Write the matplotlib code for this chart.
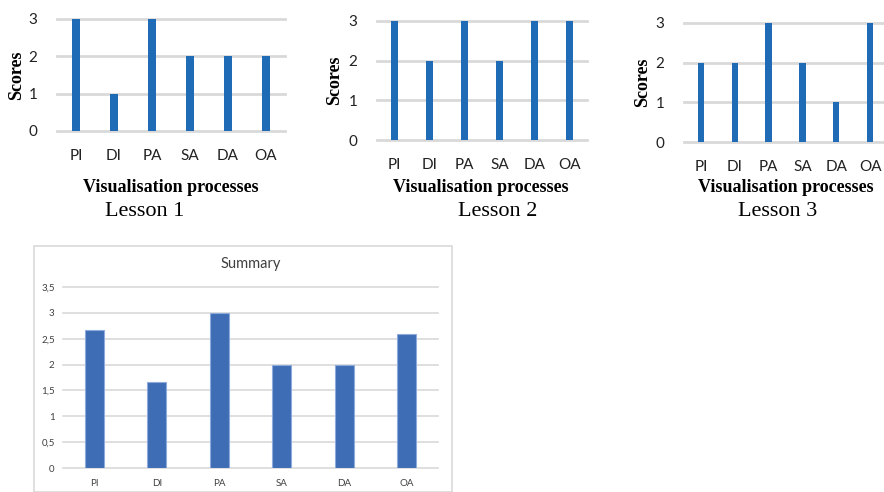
import numpy as np
import matplotlib.pyplot as plt
from matplotlib.patches import Rectangle

# données
processes = ["PI", "DI", "PA", "SA", "DA", "OA"]
lesson1 = [3, 1, 3, 2, 2, 2]
lesson2 = [3, 2, 3, 2, 3, 3]
lesson3 = [2, 2, 3, 2, 1, 3]
summary = [2.66, 1.66, 3.0, 2.0, 2.0, 2.6]
summary_ticks = [0, 0.5, 1, 1.5, 2, 2.5, 3, 3.5]
summary_tick_labels = ["0", "0,5", "1", "1,5", "2", "2,5", "3", "3,5"]
lesson_titles = ["Lesson 1", "Lesson 2", "Lesson 3"]

W, H = 884, 492
fig = plt.figure(figsize=(W / 100, H / 100), dpi=100)
fig.patch.set_facecolor("white")

def px_axes(x0, x1, ytop, ybot):
    ### conversion pixels -> fraction de figure
    return fig.add_axes([x0 / W, 1 - ybot / H, (x1 - x0) / W, (ybot - ytop) / H])

tick_font = "Lato"
serif = "Liberation Serif"
grid_col = "#D9D9D9"
bar_col = "#1F6BB6"

### (x0, x1, y de 3, y de 0), position Scores, Visualisation processes, Lesson
lesson_boxes = [
    (57, 285, 19, 131, 17, 171, 145),
    (377, 587, 21, 140, 335, 481, 498),
    (684, 887, 23, 142, 643, 786, 778),
]

x = np.arange(len(processes))
for data, box, title in zip([lesson1, lesson2, lesson3], lesson_boxes, lesson_titles):
    x0, x1, yt, yb, xs, xv, xl = box
    ax = px_axes(x0, x1, yt, yb)
    ax.bar(x, data, width=0.19, color=bar_col, zorder=3)
    ax.set_xlim(-0.5, 5.5)
    ax.set_ylim(0, 3)
    ax.set_yticks([0, 1, 2, 3])
    for v in [0, 1, 2, 3]:
        ax.axhline(v, color=grid_col, lw=2, zorder=1, clip_on=False)
    for s in ax.spines.values():
        s.set_visible(False)
    ax.set_xticks(x)
    ax.set_xticklabels(processes, fontfamily=tick_font, fontsize=11, color="#222222")
    for lab in ax.get_yticklabels():
        lab.set_fontfamily(tick_font)
        lab.set_fontsize(11)
        lab.set_color("#222222")
    ax.tick_params(axis="y", length=0, pad=14)
    ax.tick_params(axis="x", length=0, pad=13)
    ax.patch.set_alpha(0)
    fig.text(xs / W, 1 - ((yt + yb) / 2) / H, "Scores", rotation=90, ha="center", va="center",
             fontfamily=serif, fontweight="bold", fontsize=13)
    fig.text(xv / W, 1 - 188 / H, "Visualisation processes", ha="center", va="center",
             fontfamily=serif, fontweight="bold", fontsize=13)
    fig.text(xl / W, 1 - 211 / H, title, ha="center", va="center",
             fontfamily=serif, fontsize=16)

### cadre du graphique Summary
fig.patches.append(Rectangle((34 / W, 0), (452 - 34) / W, 1 - 246 / H, transform=fig.transFigure,
                             fill=False, edgecolor=grid_col, lw=1.2, clip_on=False))

ax = px_axes(63, 438, 287, 468)
ax.bar(x, summary, width=0.31, color="#3E6DB5", edgecolor="#8FAADC", lw=0.8, zorder=3)
ax.set_xlim(-0.5, 5.5)
ax.set_ylim(0, 3.5)
for v in summary_ticks:
    ax.axhline(v, color=grid_col, lw=1.2, zorder=1, clip_on=False)
for s in ax.spines.values():
    s.set_visible(False)
ax.set_yticks(summary_ticks)
ax.set_yticklabels(summary_tick_labels, fontfamily=tick_font, fontsize=7, color="#404040")
ax.set_xticks(x)
ax.set_xticklabels(processes, fontfamily=tick_font, fontsize=7, color="#404040")
ax.tick_params(axis="y", length=0, pad=6)
ax.tick_params(axis="x", length=0, pad=8)
ax.patch.set_alpha(0)
ax.set_title("Summary", fontfamily=tick_font, fontsize=10.5, color="#404040", pad=14)

fig.savefig("out.png", dpi=100)
